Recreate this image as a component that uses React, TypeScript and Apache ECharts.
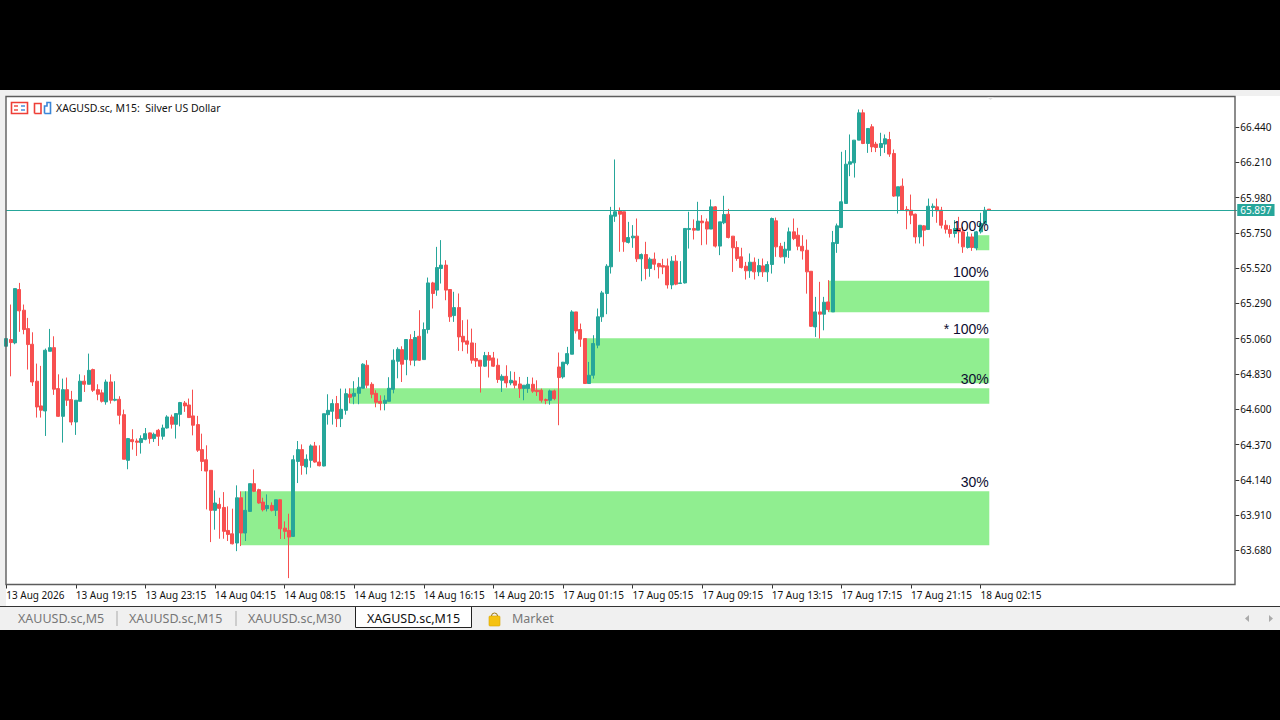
import React, { useEffect, useRef } from "react";
import * as echarts from "echarts";

// each row: open, close, low, high
const aug13: number[][] = [
[65.011,65.061,65.011,65.061],[65.055,65.035,64.815,65.283],[65.033,65.387,65.024,65.387],[65.381,65.242,65.105,65.424],
[65.246,65.120,65.089,65.283],[65.126,65.022,64.859,65.196],[65.024,64.778,64.752,65.102],[64.783,64.615,64.546,64.898],
[64.622,64.594,64.546,64.883],[64.589,64.985,64.426,64.996],[64.978,65.002,64.978,65.124],[65.002,64.731,64.694,65.076],
[64.735,64.554,64.550,64.828],[64.554,64.728,64.383,64.800],[64.728,64.659,64.622,64.807],[64.663,64.517,64.496,64.720],
[64.517,64.659,64.433,64.659],[64.652,64.783,64.652,64.828],[64.783,64.763,64.713,64.822],[64.763,64.854,64.763,64.963],
[64.859,64.724,64.713,64.865],[64.728,64.698,64.659,64.763],[64.707,64.652,64.644,64.728],[64.648,64.778,64.630,64.794],
[64.778,64.659,64.637,64.828],[64.659,64.665,64.652,64.783],[64.665,64.561,64.502,64.685],[64.565,64.274,64.274,64.598],
[64.267,64.409,64.209,64.413],[64.402,64.389,64.337,64.470],[64.393,64.385,64.296,64.409],[64.383,64.409,64.311,64.430],
[64.404,64.441,64.398,64.478],[64.446,64.409,64.376,64.448],[64.409,64.437,64.387,64.448],
];
const aug14: number[][] = [
[64.463,64.424,64.361,64.472],[64.424,64.478,64.402,64.500],[64.478,64.550,64.474,64.561],[64.550,64.502,64.474,64.565],
[64.502,64.572,64.409,64.572],[64.567,64.644,64.489,64.648],[64.641,64.622,64.583,64.654],[64.628,64.546,64.543,64.670],
[64.557,64.496,64.430,64.728],[64.500,64.333,64.322,64.557],[64.337,64.260,64.197,64.441],[64.271,64.197,63.947,64.365],
[64.202,63.941,63.734,64.202],[63.941,63.989,63.815,64.071],[63.980,63.954,63.756,64.023],[63.960,63.804,63.756,64.060],
[63.810,63.784,63.741,63.967],[63.788,63.723,63.719,63.952],[63.728,64.023,63.675,64.104],[64.023,63.793,63.708,64.065],
[63.793,63.941,63.741,64.065],[63.934,64.115,63.934,64.115],[64.115,64.065,64.060,64.208],[64.076,63.989,63.984,64.082],
[63.995,63.945,63.934,64.023],[63.952,63.973,63.934,64.045],[63.973,63.941,63.934,63.993],[63.941,64.010,63.904,64.010],
[64.010,63.821,63.754,64.010],[63.825,63.804,63.754,63.869],[63.810,63.767,63.499,63.919],[63.771,64.271,63.767,64.300],
[64.260,64.337,64.119,64.393],[64.337,64.234,64.173,64.371],[64.224,64.274,64.176,64.306],[64.267,64.361,64.219,64.371],
[64.361,64.256,64.252,64.387],[64.256,64.232,64.228,64.365],[64.230,64.571,64.228,64.571],[64.565,64.593,64.500,64.698],
[64.587,64.637,64.500,64.665],[64.637,64.539,64.484,64.687],[64.539,64.600,64.484,64.735],[64.593,64.702,64.565,64.735],
[64.698,64.678,64.639,64.737],[64.685,64.704,64.633,64.783],[64.704,64.744,64.633,64.809],[64.737,64.894,64.737,64.900],
[64.887,64.757,64.737,64.920],[64.763,64.698,64.672,64.776],[64.704,64.646,64.613,64.724],[64.652,64.639,64.593,64.691],
[64.639,64.659,64.593,64.691],[64.652,64.737,64.652,64.809],[64.730,64.920,64.704,64.991],[64.913,64.991,64.802,65.004],
[64.989,64.894,64.778,65.011],[64.924,65.055,64.822,65.055],[65.055,64.920,64.887,65.089],[64.920,65.068,64.881,65.111],
[65.076,64.920,64.915,65.246],[64.924,65.120,64.924,65.166],[65.120,65.424,65.094,65.459],[65.424,65.355,65.257,65.431],
[65.377,65.524,65.340,65.659],[65.518,65.540,65.420,65.703],[65.540,65.377,65.311,65.572],[65.381,65.203,65.170,65.381],
[65.211,65.263,65.170,65.366],[65.263,65.072,64.981,65.355],[65.076,65.039,64.979,65.181],[65.046,65.024,64.963,65.185],
[65.033,64.920,64.898,65.126],[64.931,64.915,64.876,65.033],[64.920,64.881,64.709,64.920],[64.881,64.950,64.876,64.974],
[64.950,64.920,64.807,64.974],[64.935,64.881,64.876,64.974],[64.887,64.794,64.772,64.931],[64.789,64.815,64.713,64.828],
[64.815,64.772,64.741,64.887],[64.772,64.789,64.757,64.848],[64.785,64.757,64.735,64.844],[64.765,64.735,64.674,64.811],
[64.735,64.757,64.659,64.757],[64.735,64.763,64.707,64.811],[64.763,64.718,64.707,64.807],[64.724,64.715,64.687,64.789],
[64.724,64.659,64.644,64.735],[64.663,64.657,64.633,64.670],[64.659,64.720,64.630,64.728],[64.720,64.670,64.659,64.728],
];
const aug17: number[][] = [
[64.876,64.807,64.496,64.970],[64.811,64.907,64.800,64.909],[64.898,64.963,64.887,65.007],[64.959,65.235,64.959,65.246],
[65.235,65.111,65.094,65.235],[65.120,65.057,65.007,65.159],[65.061,64.768,64.768,65.061],[64.768,64.822,64.768,64.909],
[64.822,65.029,64.800,65.083],[65.018,65.203,64.998,65.257],[65.203,65.359,65.170,65.372],[65.355,65.533,65.220,65.546],
[65.529,65.866,65.485,65.920],[65.859,65.888,65.822,66.229],[65.894,65.872,65.627,65.916],[65.888,65.692,65.627,65.888],
[65.688,65.720,65.681,65.822],[65.718,65.729,65.653,65.801],[65.729,65.581,65.561,65.844],[65.581,65.609,65.435,65.616],
[65.609,65.518,65.446,65.692],[65.518,65.579,65.464,65.590],[65.579,65.546,65.507,65.622],[65.550,65.529,65.453,65.555],
[65.537,65.527,65.481,65.581],[65.535,65.411,65.387,65.583],[65.411,65.566,65.383,65.598],[65.566,65.416,65.409,65.605],
[65.420,65.424,65.420,65.566],[65.424,65.779,65.420,65.779],[65.772,65.779,65.648,65.888],[65.779,65.768,65.707,65.838],
[65.768,65.827,65.768,65.953],[65.827,65.816,65.670,65.866],[65.822,65.775,65.674,65.844],[65.775,65.920,65.775,65.968],
[65.920,65.664,65.655,65.925],[65.664,65.822,65.605,65.822],[65.816,65.870,65.807,65.992],[65.872,65.720,65.714,65.907],
[65.729,65.653,65.496,65.729],[65.655,65.583,65.568,65.696],[65.594,65.524,65.518,65.653],[65.533,65.503,65.446,65.561],
[65.503,65.559,65.457,65.616],[65.559,65.496,65.446,65.590],[65.496,65.537,65.468,65.581],[65.535,65.496,65.463,65.583],
[65.496,65.544,65.431,65.565],[65.544,65.844,65.485,65.850],[65.829,65.659,65.594,65.850],[65.663,65.594,65.589,65.685],
[65.594,65.644,65.550,65.692],[65.637,65.757,65.587,65.785],[65.757,65.713,65.703,65.844],[65.735,65.663,65.637,65.783],
[65.663,65.633,65.576,65.735],[65.637,65.496,65.354,65.707],[65.500,65.141,65.137,65.500],[65.137,65.235,65.072,65.333],
[65.235,65.220,65.061,65.431],[65.220,65.298,65.115,65.333],[65.300,65.250,65.235,65.442],[65.235,65.687,65.235,65.763],
[65.681,65.796,65.620,65.811],[65.785,65.953,65.785,66.279],[65.942,66.198,65.942,66.290],[66.198,66.214,66.120,66.392],
[66.207,66.355,66.111,66.355],[66.355,66.533,66.355,66.555],[66.533,66.333,66.329,66.555],[66.333,66.431,66.272,66.431],
[66.442,66.311,66.277,66.459],[66.329,66.307,66.277,66.344],[66.307,66.333,66.251,66.403],[66.329,66.364,66.272,66.392],
[66.359,66.264,66.246,66.409],[66.268,65.990,65.985,66.294],[65.990,66.051,65.876,66.051],[66.055,65.898,65.894,66.105],
[65.903,65.894,65.774,65.924],[65.898,65.866,65.807,66.000],[65.872,65.724,65.681,65.876],[65.724,65.800,65.681,65.800],
[65.796,65.768,65.663,65.800],[65.772,65.924,65.772,65.974],[65.916,65.924,65.855,65.942],[65.920,65.894,65.816,65.974],
];
const aug18: number[][] = [
[65.898,65.800,65.779,65.920],[65.800,65.774,65.746,65.833],[65.772,65.746,65.720,65.800],[65.746,65.779,65.720,65.833],
[65.779,65.757,65.681,65.855],[65.757,65.659,65.620,65.790],[65.655,65.724,65.648,65.757],[65.724,65.655,65.633,65.746],
[65.652,65.757,65.637,65.763],[65.757,65.811,65.746,65.881],[65.811,65.898,65.811,65.920],[65.905,65.898,65.894,65.905],
];
const candles = [...aug13, ...aug14, ...aug17, ...aug18];

const timeLabels = [
  "13 Aug 2026", "13 Aug 19:15", "13 Aug 23:15", "14 Aug 04:15", "14 Aug 08:15", "14 Aug 12:15", "14 Aug 16:15",
  "14 Aug 20:15", "17 Aug 01:15", "17 Aug 05:15", "17 Aug 09:15", "17 Aug 13:15", "17 Aug 17:15", "17 Aug 21:15", "18 Aug 02:15",
];
const priceTicks = [63.68, 63.91, 64.14, 64.37, 64.6, 64.83, 65.06, 65.29, 65.52, 65.75, 65.98, 66.21, 66.44];
const lastPrice = 65.897;

// supply / demand zones (bar index, price)
const zoneStart = [223, 189, 133, 79, 54];
const zoneEnd = 226;
const zoneTop = [65.735, 65.438, 65.063, 64.737, 64.065];
const zoneBottom = [65.637, 65.233, 64.770, 64.636, 63.713];
const zoneLabels = ["100%", "100%", "* 100%", "30%", "30%"];

const tabs = ["XAUUSD.sc,M5", "XAUUSD.sc,M15", "XAUUSD.sc,M30"];
const UP = "#26A69A";
const DOWN = "#F75050";
const UI_FONT = "'Noto Sans', sans-serif";
const BAR_STEP = 16;

export default function App() {
  const ref = useRef<HTMLDivElement>(null);
  useEffect(() => {
    document.body.style.margin = "0";
    document.body.style.background = "#000";
    const chart = echarts.init(ref.current!, undefined, { renderer: "svg" });
    const categories = Array.from({ length: 284 }, (_, i) => `bar${i}`);
    const showTick = (i: number) => i % BAR_STEP === 0 && i / BAR_STEP < timeLabels.length;
    chart.setOption({
      animation: false,
      backgroundColor: "#000",
      grid: { left: 6.2, top: 96.5, width: 1231.05, height: 488, show: false, containLabel: false },
      xAxis: {
        type: "category",
        data: categories,
        boundaryGap: false,
        axisLine: { show: false },
        axisTick: { show: true, length: 4, interval: (i: number) => showTick(i), lineStyle: { color: "#333" } },
        axisLabel: {
          show: true,
          interval: (i: number) => showTick(i),
          formatter: (_: string, i: number) => timeLabels[i / BAR_STEP] ?? "",
          align: "left",
          margin: 5,
          fontSize: 10,
          fontFamily: UI_FONT,
          color: "#111",
          hideOverlap: false,
        },
        splitLine: { show: false },
      },
      yAxis: {
        type: "value",
        position: "right",
        offset: -2,
        min: 63.4575,
        max: 66.6395,
        axisLine: { show: false },
        axisTick: { show: true, length: 4, lineStyle: { color: "#333" }, customValues: priceTicks },
        axisLabel: {
          show: true,
          customValues: priceTicks,
          formatter: (v: number) => v.toFixed(3),
          margin: 5,
          fontSize: 10,
          fontFamily: UI_FONT,
          color: "#111",
          padding: [0, 0, 1, 0],
        },
        splitLine: { show: false },
      },
      series: [
        {
          type: "candlestick",
          data: candles,
          barWidth: 3.5,
          z: 3,
          itemStyle: { color: UP, color0: DOWN, borderColor: UP, borderColor0: DOWN, borderWidth: 1, opacity: 1 },
          markArea: {
            silent: true,
            z: 1,
            itemStyle: { color: "#90EE90", opacity: 1 },
            label: { show: false },
            data: zoneStart.map((s, i) => [
              { xAxis: s, yAxis: zoneTop[i] },
              { xAxis: zoneEnd, yAxis: zoneBottom[i] },
            ]),
          },
          markLine: {
            silent: true,
            symbol: "none",
            z: 4,
            lineStyle: { color: UP, width: 1, type: "solid" },
            label: {
              show: true,
              position: "end",
              distance: 0,
              formatter: lastPrice.toFixed(3),
              color: "#fff",
              backgroundColor: UP,
              padding: [1, 3, 1, 3],
              fontSize: 10,
              fontFamily: UI_FONT,
            },
            data: [{ yAxis: lastPrice }],
          },
        },
        {
          type: "scatter",
          z: 6,
          symbolSize: 1,
          silent: true,
          itemStyle: { color: "rgba(0,0,0,0)", opacity: 1 },
          label: {
            show: true,
            position: "left",
            distance: 0,
            offset: [0, -9],
            formatter: "{b}",
            color: "#0d0d30",
            opacity: 1,
            textBorderWidth: 0,
            fontSize: 14,
            fontFamily: "'Liberation Sans', sans-serif",
          },
          data: zoneLabels.map((name, i) => ({ name, value: [zoneEnd, zoneTop[i]] })),
        },
      ],
      graphic: {
        elements: [
          // window chrome behind the plot
          { type: "rect", z: -10, silent: true, shape: { x: 0, y: 90, width: 1280, height: 540 }, style: { fill: "#f0f0f0" } },
          { type: "rect", z: -9, silent: true, shape: { x: 6, y: 96, width: 1274, height: 511 }, style: { fill: "#fff" } },
          { type: "rect", z: -8, silent: true, shape: { x: 0, y: 607, width: 1280, height: 23 }, style: { fill: "#f0f0f0" } },
          { type: "line", z: -7, silent: true, shape: { x1: 0, y1: 606.5, x2: 1280, y2: 606.5 }, style: { stroke: "#333", lineWidth: 1 } },
          // plot frame
          { type: "rect", z: 8, silent: true, shape: { x: 6, y: 96.5, width: 1229, height: 488 }, style: { fill: "none", stroke: "#5c5c5c", lineWidth: 1.4 } },
          // title + icons
          { type: "text", z: 8, silent: true, x: 56, y: 108, style: { text: "XAGUSD.sc, M15:  Silver US Dollar", fontSize: 10.5, fontFamily: UI_FONT, fill: "#111", verticalAlign: "middle" } },
          { type: "rect", z: 8, silent: true, shape: { x: 11.5, y: 102.5, width: 16, height: 11 }, style: { fill: "#fff", stroke: "#ee3f37", lineWidth: 1.6 } },
          { type: "line", z: 8, silent: true, shape: { x1: 14, y1: 106, x2: 18, y2: 106 }, style: { stroke: "#ee3f37", lineWidth: 1.4 } },
          { type: "line", z: 8, silent: true, shape: { x1: 14, y1: 110, x2: 18, y2: 110 }, style: { stroke: "#ee3f37", lineWidth: 1.4 } },
          { type: "line", z: 8, silent: true, shape: { x1: 21, y1: 106, x2: 25, y2: 106 }, style: { stroke: "#3b86d8", lineWidth: 1.4 } },
          { type: "line", z: 8, silent: true, shape: { x1: 21, y1: 110, x2: 25, y2: 110 }, style: { stroke: "#3b86d8", lineWidth: 1.4 } },
          { type: "polyline", z: 8, silent: true, shape: { points: [[34.5, 113.5], [34.5, 103.5], [41, 103.5], [41, 113.5], [34.5, 113.5]] }, style: { fill: "none", stroke: "#ee3f37", lineWidth: 1.6 } },
          { type: "polyline", z: 8, silent: true, shape: { points: [[44.5, 113.5], [44.5, 106], [47, 106], [47, 102.5], [50.5, 102.5], [50.5, 113.5], [44.5, 113.5]] }, style: { fill: "none", stroke: "#3b86d8", lineWidth: 1.6 } },
          // tab bar
          ...tabs.map((t, i) => ({ type: "text", silent: true, z: 8, x: [18, 129, 248][i], y: 618.5, style: { text: t, fontSize: 12.5, fontFamily: UI_FONT, fill: "#777", verticalAlign: "middle" } })),
          { type: "line", z: 8, silent: true, shape: { x1: 117, y1: 611, x2: 117, y2: 626 }, style: { stroke: "#aaa" } },
          { type: "line", z: 8, silent: true, shape: { x1: 236, y1: 611, x2: 236, y2: 626 }, style: { stroke: "#aaa" } },
          { type: "polyline", z: 8, silent: true, shape: { points: [[355.5, 607], [355.5, 627.5], [471.5, 627.5], [471.5, 607]] }, style: { fill: "#fff", stroke: "#222", lineWidth: 1 } },
          { type: "text", z: 9, silent: true, x: 367, y: 618, style: { text: "XAGUSD.sc,M15", fontSize: 12.5, fontFamily: UI_FONT, fill: "#111", verticalAlign: "middle" } },
          { type: "rect", z: 8, silent: true, shape: { x: 489, y: 616, width: 11, height: 10, r: 1 }, style: { fill: "#f5c211", stroke: "#d9a400", lineWidth: 0.6 } },
          { type: "arc", z: 8, silent: true, shape: { cx: 494.5, cy: 616, r: 3, startAngle: Math.PI, endAngle: 0 }, style: { stroke: "#a07a10", fill: "none", lineWidth: 1 } },
          { type: "text", z: 8, silent: true, x: 512, y: 618.5, style: { text: "Market", fontSize: 12.5, fontFamily: UI_FONT, fill: "#777", verticalAlign: "middle" } },
          { type: "polygon", z: 8, silent: true, shape: { points: [[1249, 615], [1245, 618.5], [1249, 622]] }, style: { fill: "#aaa" } },
          { type: "polygon", z: 8, silent: true, shape: { points: [[1269, 615], [1273, 618.5], [1269, 622]] }, style: { fill: "#aaa" } },
          { type: "polygon", z: 8, silent: true, shape: { points: [[987, 97], [994, 97], [990.5, 100]] }, style: { fill: "#e4e4e4" } },
        ],
      },
    });
    return () => chart.dispose();
  }, []);
  return <div ref={ref} style={{ position: "absolute", left: 0, top: 0, width: 1280, height: 720 }} />;
}
